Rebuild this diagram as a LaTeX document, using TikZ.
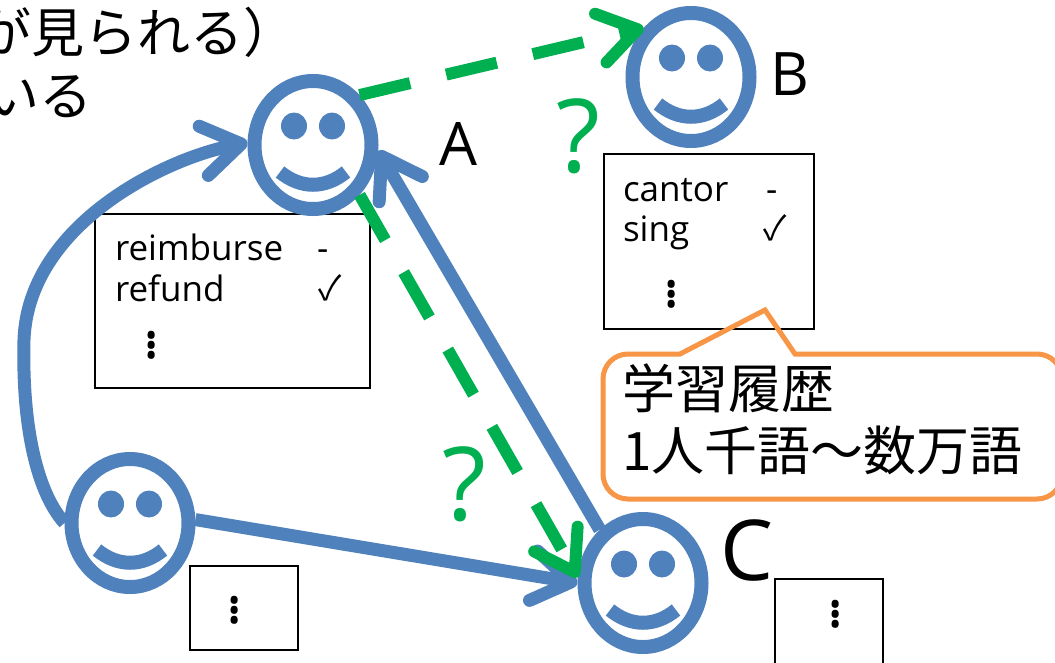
\documentclass[tikz,border=0pt]{standalone}
\usepackage{fontspec}
\setmainfont{Open Sans}
\newfontfamily\cjk{Noto Sans CJK JP}
\usetikzlibrary{arrows.meta,shapes.geometric}
\definecolor{fblue}{HTML}{4F81BD}
\definecolor{fgreen}{HTML}{00B050}
\definecolor{forange}{HTML}{F79646}
\tikzset{
  face/.style={draw=fblue,ellipse,line width=14pt,minimum width=117pt,minimum height=128pt,inner sep=0pt,outer sep=7pt},
  eye/.style={fill=fblue,ellipse,minimum width=26pt,minimum height=27pt,inner sep=0pt},
  mouth/.style={draw=fblue,line width=14pt},
  listbox/.style={draw=black,line width=2pt,inner sep=0pt,outer sep=0pt},
  txt/.style={inner sep=0pt,outer sep=0pt,anchor=base west},
  word/.style={txt,font=\fontsize{35}{35}\selectfont},
  letter/.style={txt,font=\fontsize{60}{60}\selectfont},
  bigletter/.style={txt,font=\fontsize{84}{84}\selectfont},
  query/.style={txt,text=fgreen,font=\fontsize{102}{102}\selectfont},
  jp/.style={txt,font=\cjk\fontsize{53}{53}\selectfont},
  tick/.style={inner sep=0pt,font=\cjk\fontsize{34}{34}\selectfont},
  vdotsmark/.style={inner sep=0pt,font=\fontsize{36}{36}\selectfont,scale=1.7},
  bluearrow/.style={draw=fblue,line width=13pt,-{Straight Barb[length=38pt,width=50pt,round]}},
  greenarrow/.style={draw=fgreen,line width=12pt,dash pattern=on 52pt off 37pt,-{Straight Barb[length=38pt,width=50pt,round]}},
}
\newcommand{\smiley}[3]{%
  \node[face] (#3) at (#1,#2) {};
  \node[eye] (#3l) at (#1-19,#2-19) {};
  \node[eye] (#3r) at (#1+19,#2-19) {};
  \begin{scope}[shift={(#1,#2)}]
    \draw[mouth] (-33,27) .. controls (-12,44) and (12,44) .. (33,27);
  \end{scope}}
\begin{document}
\begin{tikzpicture}[x=1pt,y=-1pt]
\useasboundingbox (0,0) rectangle (1055,662);
\clip (0,0) rectangle (1055,662);
\fill[white] (0,0) rectangle (1055,662);
% list boxes
\node[listbox,minimum width=275pt,minimum height=174pt] (boxa) at (232.5,301) {};
\node[listbox,minimum width=210pt,minimum height=175pt] (boxb) at (709,241.5) {};
\node[listbox,minimum width=108pt,minimum height=84pt] (boxd) at (244,608) {};
\node[listbox,minimum width=108pt,minimum height=100pt] (boxc) at (829,629) {};
% faces
\smiley{313}{145}{a}
\smiley{691}{77}{b}
\smiley{643}{583}{c}
\smiley{130}{523}{d}
% top text
\node[jp] (t1) at (-21,52) {が見られる）};
\node[jp] (t2) at (-13,115) {いる};
% letters
\node[letter] (la) at (439,165) {A};
\node[letter] (lb) at (770,95) {B};
\node[bigletter] (lc) at (720,580) {C};
\node[query] (q1) at (556,172) {?};
\node[query] (q2) at (442,520) {?};
% box contents
\node[word] (w1) at (115,260) {reimburse};
\node[word] (w2) at (115,301) {refund};
\node[word] (w3) at (317,260) {-};
\node[tick] (m1) at (330,288) {✓};
\node[word] (w4) at (623,201) {cantor};
\node[word] (w5) at (623,241) {sing};
\node[word] (w6) at (766,201) {-};
\node[tick] (m2) at (775,228) {✓};
\node[vdotsmark] (v1) at (152,340) {$\vdots$};
\node[vdotsmark] (v2) at (672,289) {$\vdots$};
\node[vdotsmark] (v3) at (235,605) {$\vdots$};
\node[vdotsmark] (v4) at (836,609) {$\vdots$};
% callout
\draw[forange,line width=5pt] (680,354) [rounded corners=25pt] -- (603,354) -- (603,499) -- (1062,499) -- (1062,354) [sharp corners] -- (795,354) -- (765,310) -- cycle;
\node[jp] (c1) at (622,408) {学習履歴};
\node[jp] (c2) at (622,470) {1人千語～数万語};
% connectors
\draw[bluearrow] (d.180) .. controls (35,490) and (22,420) .. (24,340)
   .. controls (28,225) and (165,158) .. (a.178);
\draw[bluearrow] (d.3) -- (c.180);
\draw[bluearrow] (c.129) -- (a.-5);
\draw[greenarrow] (a.47) -- (b.134);
\draw[greenarrow] (a.-47) -- (c.175);
\end{tikzpicture}
\end{document}
